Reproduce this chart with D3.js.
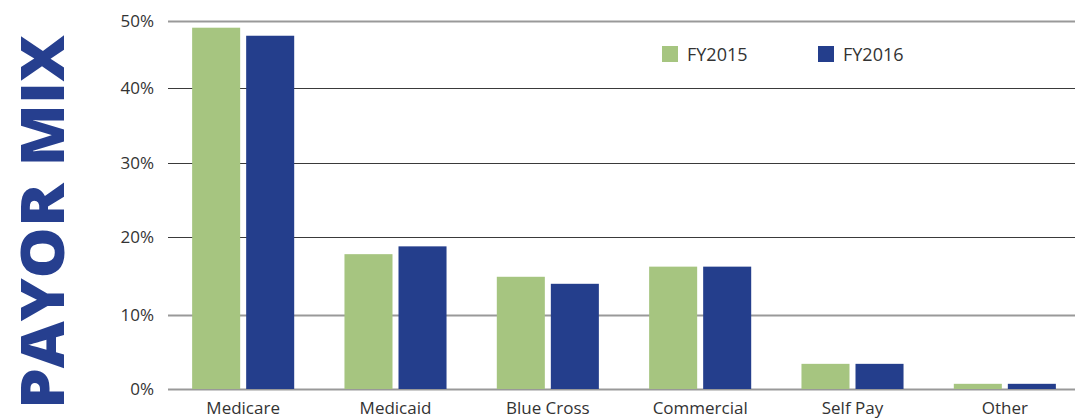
<!DOCTYPE html>
<html>
<head>
<meta charset="utf-8">
<script src="https://cdn.jsdelivr.net/npm/d3@7"></script>
<style>
  body { margin: 0; background: #fff; }
  text { font-family: "Open Sans", Lato, sans-serif; fill: #333; }
</style>
</head>
<body>
<div id="chart"></div>
<script>
// Chart data
const categories = ["Medicare", "Medicaid", "Blue Cross", "Commercial", "Self Pay", "Other"];
const seriesNames = ["FY2015", "FY2016"];
const fy2015 = [49.0, 17.8, 14.9, 16.2, 3.4, 0.7];
const fy2016 = [47.8, 18.8, 14.0, 16.2, 3.4, 0.7];
const yTicks = [0, 10, 20, 30, 40, 50];
const colors = ["#a6c580", "#243e8c"];

const width = 1075, height = 420;

const svg = d3.select("#chart")
  .append("svg")
  .attr("width", width)
  .attr("height", height);

// y scale follows the gridline spacing of the original picture
const y = d3.scaleLinear()
  .domain(yTicks)
  .range([389, 315, 237, 163, 88, 21]);

const x = d3.scaleBand()
  .domain(categories)
  .range([167, 1081])
  .paddingInner(0.33)
  .paddingOuter(0.165);

const xs = d3.scaleBand()
  .domain(seriesNames)
  .range([0, x.bandwidth()])
  .paddingInner(0.111);

// gridlines
svg.append("g")
  .selectAll("line")
  .data(yTicks)
  .enter().append("line")
  .attr("x1", 168)
  .attr("x2", width)
  .attr("y1", d => Math.round(y(d)) + 0.5)
  .attr("y2", d => Math.round(y(d)) + 0.5)
  .attr("stroke", d => (d === 0 || d === 10 || d === 50) ? "#999" : "#3a3a3a")
  .attr("stroke-width", d => (d === 0 || d === 10 || d === 50) ? 2 : 1);

// y tick labels
svg.append("g")
  .selectAll("text")
  .data(yTicks)
  .enter().append("text")
  .attr("x", 154)
  .attr("y", d => y(d))
  .attr("dy", "0.33em")
  .attr("text-anchor", "end")
  .attr("font-size", 17)
  .text(d => d + "%");

// bars
const rows = categories.map((c, i) => ({cat: c, values: [fy2015[i], fy2016[i]]}));

const group = svg.append("g")
  .selectAll("g")
  .data(rows)
  .enter().append("g")
  .attr("transform", d => `translate(${x(d.cat)},0)`);

group.selectAll("rect")
  .data(d => d.values.map((v, j) => ({name: seriesNames[j], value: v, j: j})))
  .enter().append("rect")
  .attr("x", d => xs(d.name))
  .attr("width", xs.bandwidth())
  .attr("y", d => y(d.value))
  .attr("height", d => y(0) - y(d.value))
  .attr("fill", d => colors[d.j]);

// x labels (the reference crops them at the bottom edge; keep them just inside)
svg.append("g")
  .selectAll("text")
  .data(categories)
  .enter().append("text")
  .attr("x", d => x(d) + x.bandwidth() / 2)
  .attr("y", 414)
  .attr("text-anchor", "middle")
  .attr("font-size", 17)
  .text(d => d);

// legend
const legend = svg.append("g")
  .selectAll("g")
  .data(seriesNames)
  .enter().append("g")
  .attr("transform", (d, i) => `translate(${662 + i * 156},46)`);

legend.append("rect")
  .attr("width", 16)
  .attr("height", 16)
  .attr("fill", (d, i) => colors[i]);

legend.append("text")
  .attr("x", 25)
  .attr("y", 15)
  .attr("font-size", 18)
  .text(d => d);

// vertical title
svg.append("text")
  .attr("transform", "translate(64,409) rotate(-90)")
  .attr("font-family", "Lato, 'Open Sans', sans-serif")
  .attr("font-weight", 900)
  .attr("font-size", 60)
  .attr("textLength", 374)
  .attr("lengthAdjust", "spacingAndGlyphs")
  .style("fill", "#263f8f")
  .text("PAYOR MIX");
</script>
</body>
</html>
